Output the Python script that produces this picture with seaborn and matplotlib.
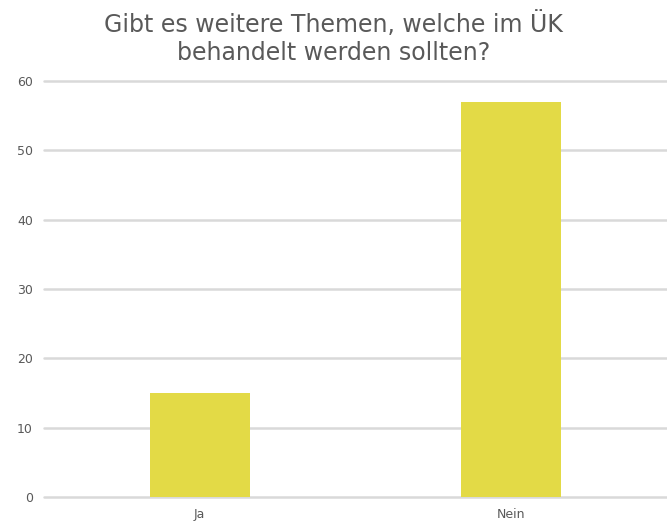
import matplotlib
matplotlib.use("Agg")
import matplotlib.pyplot as plt
import seaborn as sns
import pandas as pd

categories = ["Ja", "Nein"]
values = [15, 57]
title = "Gibt es weitere Themen, welche im ÜK\nbehandelt werden sollten?"

df = pd.DataFrame({"antwort": categories, "anzahl": values})

sns.set_style("white")
plt.rcParams['font.family'] = ['DejaVu Sans']

fig = plt.figure(figsize=(6.67, 5.25), dpi=100)
ax = fig.add_axes([0.066, 0.053, 0.934, 0.793])

sns.barplot(data=df, x="antwort", y="anzahl", color="#E3DA46", width=0.32,
            saturation=1, linewidth=0, ax=ax, zorder=3)

ax.set_ylim(0, 60)
ax.set_xlim(-0.5, 1.5)
ax.set_yticks(range(0, 61, 10))
ax.yaxis.grid(True, color="#D9D9D9", linewidth=1.8, zorder=0)
for gl in ax.get_ygridlines():
    gl.set_clip_on(False)
ax.set_axisbelow(True)
for s in ax.spines.values():
    s.set_visible(False)
ax.tick_params(axis="both", length=0, labelsize=9, colors="#595959", pad=8)
ax.set_xlabel("")
ax.set_ylabel("")
fig.suptitle(title, fontsize=17, color="#595959", y=0.978, va="top",
             linespacing=1.2)

fig.savefig("out.png", dpi=100)
